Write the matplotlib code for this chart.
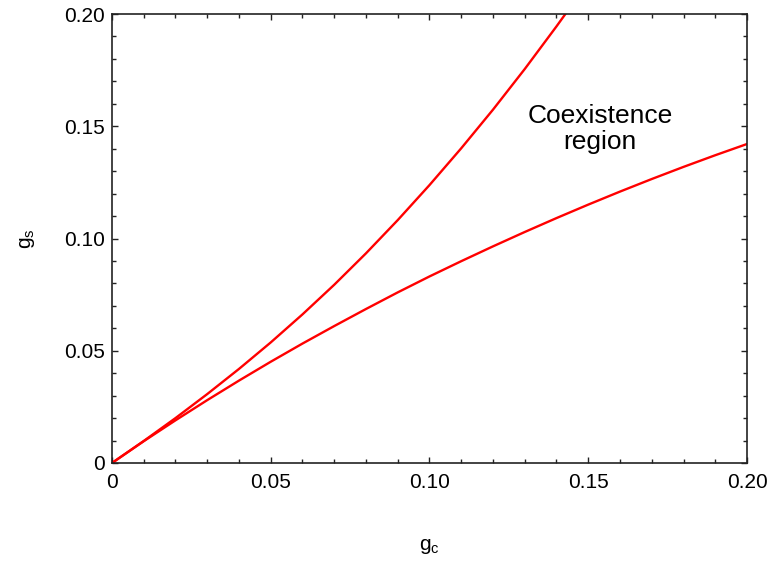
import matplotlib
matplotlib.use("Agg")
import matplotlib.pyplot as plt
from matplotlib.ticker import MultipleLocator, FuncFormatter

plt.rcParams["font.family"] = ["Liberation Sans", "DejaVu Sans"]
plt.rcParams["mathtext.default"] = "regular"

# upper phase boundary g_s(g_c)
gc_upper = [0.0, 0.01, 0.02, 0.03, 0.04, 0.05, 0.06, 0.07, 0.08, 0.09,
            0.10, 0.11, 0.12, 0.13, 0.14, 0.1428]
gs_upper = [0.0, 0.0098, 0.0200, 0.0307, 0.0419, 0.0537, 0.0662, 0.0794,
            0.0934, 0.1082, 0.1238, 0.1402, 0.1574, 0.1755, 0.1945, 0.2000]

# lower phase boundary g_s(g_c)
gc_lower = [0.0, 0.01, 0.02, 0.03, 0.04, 0.05, 0.06, 0.07, 0.08, 0.09, 0.10,
            0.11, 0.12, 0.13, 0.14, 0.15, 0.16, 0.17, 0.18, 0.19, 0.20]
gs_lower = [0.0, 0.0097, 0.0190, 0.0280, 0.0367, 0.0451, 0.0532, 0.0610,
            0.0686, 0.0760, 0.0831, 0.0899, 0.0965, 0.1029, 0.1091, 0.1151,
            0.1209, 0.1265, 0.1319, 0.1371, 0.1421]

ticks = [0.0, 0.05, 0.10, 0.15, 0.20]
tick_labels = ["0", "0.05", "0.10", "0.15", "0.20"]


def fmt(v, pos):
    for t, s in zip(ticks, tick_labels):
        if abs(v - t) < 1e-9:
            return s
    return ""


fig = plt.figure(figsize=(7.69, 5.61), dpi=100)
ax = fig.add_axes([0.1456, 0.1747, 0.8258, 0.8003])

ax.plot(gc_upper, gs_upper, color="#ff0000", lw=1.7, solid_joinstyle="round")
ax.plot(gc_lower, gs_lower, color="#ff0000", lw=1.7, solid_joinstyle="round")

ax.set_xlim(0, 0.20)
ax.set_ylim(0, 0.20)

for axis in (ax.xaxis, ax.yaxis):
    axis.set_major_locator(MultipleLocator(0.05))
    axis.set_minor_locator(MultipleLocator(0.01))
    axis.set_major_formatter(FuncFormatter(fmt))

ax.tick_params(which="both", direction="in", top=True, right=True,
               labelsize=15, width=1.0, color="#222222")
ax.tick_params(which="major", length=4)
ax.tick_params(which="minor", length=3)
ax.tick_params(axis="x", pad=7)
ax.tick_params(axis="y", pad=5)
for sp in ax.spines.values():
    sp.set_linewidth(1.2)
    sp.set_color("#222222")

ax.set_xlabel("$g_c$", fontsize=15)
ax.set_ylabel("$g_s$", fontsize=15)
ax.xaxis.set_label_coords(0.5, -0.165)
ax.yaxis.set_label_coords(-0.118, 0.5)

ax.text(0.1537, 0.1488, "Coexistence\nregion", ha="center", va="center",
        multialignment="center", fontsize=19, linespacing=1.15)

fig.savefig("out.png", dpi=100)
